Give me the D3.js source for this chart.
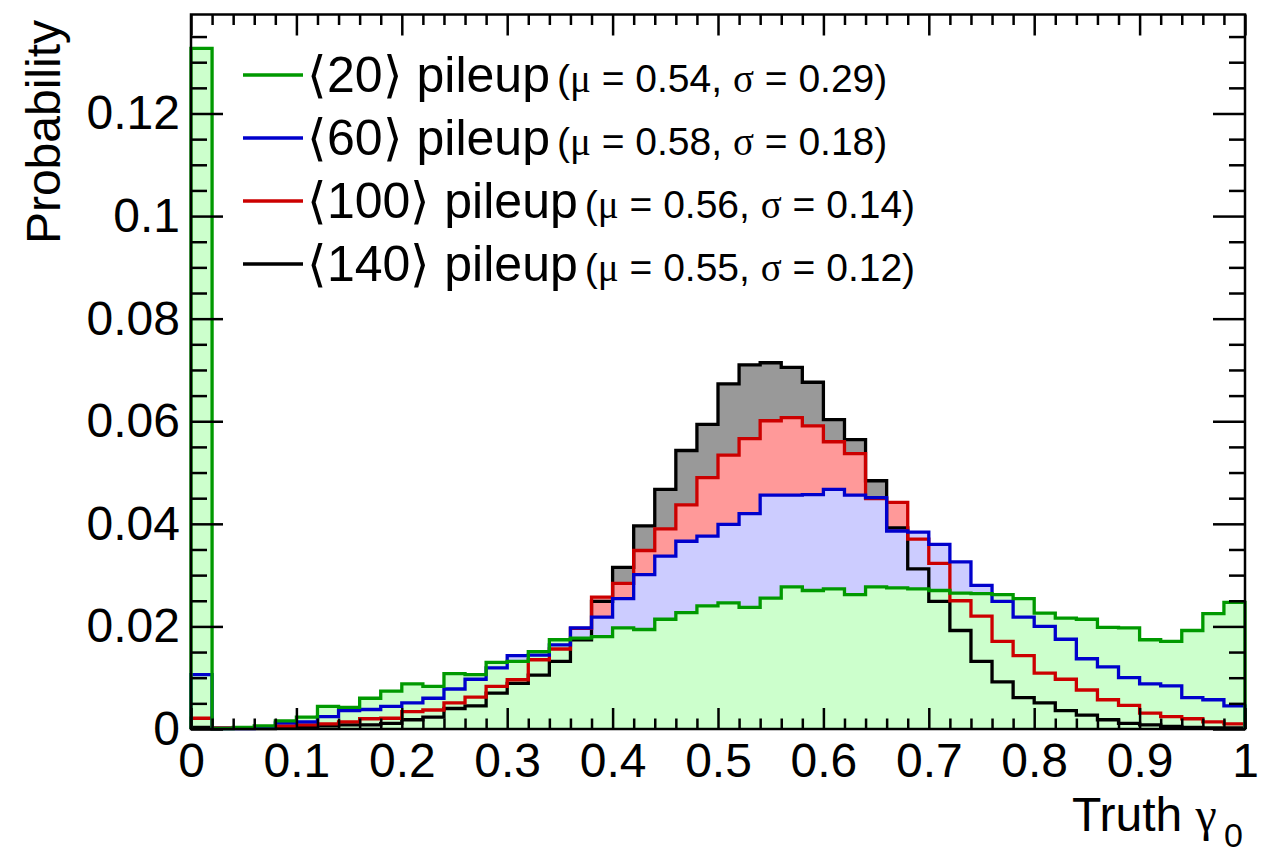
<!DOCTYPE html>
<html>
<head>
<meta charset="utf-8">
<script src="https://cdn.jsdelivr.net/npm/d3@7"></script>
<style>
  body { margin: 0; background: #fff; }
  svg { display: block; }
  text { font-family: "Liberation Sans", Arial, Helvetica, sans-serif; }
</style>
</head>
<body>
<svg id="chart" width="1279" height="855"></svg>
<script>
// Truth gamma_0 distributions, 50 bins of width 0.02 over [0, 1]
const binWidth = 0.02;

const pileup20 = [
  0.1327, 0.0001, 0.0003, 0.0006, 0.0016, 0.0023, 0.0044, 0.0042, 0.0060, 0.0074,
  0.0088, 0.0083, 0.0108, 0.0106, 0.0130, 0.0132, 0.0151, 0.0174, 0.0177, 0.0180,
  0.0197, 0.0194, 0.0214, 0.0227, 0.0240, 0.0246, 0.0237, 0.0255, 0.0277, 0.0270,
  0.0273, 0.0262, 0.0277, 0.0275, 0.0273, 0.0270, 0.0265, 0.0264, 0.0262, 0.0254,
  0.0226, 0.0216, 0.0214, 0.0198, 0.0197, 0.0174, 0.0171, 0.0192, 0.0225, 0.0247
];

const pileup60 = [
  0.0106, 0.0001, 0.0001, 0.0002, 0.0012, 0.0014, 0.0024, 0.0036, 0.0038, 0.0044,
  0.0051, 0.0060, 0.0078, 0.0097, 0.0119, 0.0143, 0.0144, 0.0164, 0.0197, 0.0218,
  0.0254, 0.0301, 0.0337, 0.0366, 0.0376, 0.0399, 0.0420, 0.0456, 0.0456, 0.0457,
  0.0467, 0.0456, 0.0451, 0.0386, 0.0384, 0.0360, 0.0326, 0.0280, 0.0249, 0.0218,
  0.0200, 0.0175, 0.0137, 0.0121, 0.0100, 0.0088, 0.0084, 0.0061, 0.0057, 0.0045
];

const pileup100 = [
  0.0021, 0.0002, 0.0002, 0.0002, 0.0006, 0.0008, 0.0010, 0.0014, 0.0020, 0.0021,
  0.0034, 0.0037, 0.0051, 0.0062, 0.0083, 0.0096, 0.0135, 0.0156, 0.0196, 0.0257,
  0.0284, 0.0348, 0.0390, 0.0437, 0.0490, 0.0534, 0.0566, 0.0601, 0.0607, 0.0591,
  0.0560, 0.0537, 0.0449, 0.0442, 0.0370, 0.0323, 0.0250, 0.0220, 0.0171, 0.0143,
  0.0109, 0.0097, 0.0076, 0.0057, 0.0046, 0.0031, 0.0024, 0.0020, 0.0014, 0.0010
];

const pileup140 = [
  0.0003, 0.0001, 0.0001, 0.0001, 0.0002, 0.0004, 0.0006, 0.0008, 0.0008, 0.0011,
  0.0018, 0.0023, 0.0040, 0.0045, 0.0070, 0.0089, 0.0105, 0.0132, 0.0174, 0.0249,
  0.0315, 0.0396, 0.0467, 0.0543, 0.0594, 0.0673, 0.0710, 0.0714, 0.0705, 0.0676,
  0.0603, 0.0564, 0.0484, 0.0392, 0.0312, 0.0249, 0.0192, 0.0132, 0.0092, 0.0061,
  0.0051, 0.0036, 0.0027, 0.0018, 0.0011, 0.0008, 0.0005, 0.0003, 0.0002, 0.0002
];

// Legend entries
const legendPileup = ["20", "60", "100", "140"];
const legendMu = ["0.54", "0.58", "0.56", "0.55"];
const legendSigma = ["0.29", "0.18", "0.14", "0.12"];

// Axis tick labels
const xTickValues = [0, 0.1, 0.2, 0.3, 0.4, 0.5, 0.6, 0.7, 0.8, 0.9, 1];
const xTickLabels = ["0", "0.1", "0.2", "0.3", "0.4", "0.5", "0.6", "0.7", "0.8", "0.9", "1"];
const yTickValues = [0, 0.02, 0.04, 0.06, 0.08, 0.1, 0.12];
const yTickLabels = ["0", "0.02", "0.04", "0.06", "0.08", "0.1", "0.12"];

// Series styling: fills drawn back to front, outlines afterwards in the same order
const series = [
  { values: pileup140, line: "#000000", fill: "#999999" },
  { values: pileup100, line: "#cc0000", fill: "#ff9999" },
  { values: pileup60,  line: "#0000cc", fill: "#ccccff" },
  { values: pileup20,  line: "#009900", fill: "#ccffcc" }
];
const legendColors = ["#009900", "#0000cc", "#cc0000", "#000000"];

const svg = d3.select("#chart");
const W = 1279, H = 855;
const plot = { left: 191, right: 1245, top: 14.5, bottom: 729 };
const serif = "'Liberation Serif', 'Times New Roman', serif";

svg.append("rect").attr("width", W).attr("height", H).attr("fill", "#fff");

const x = d3.scaleLinear().domain([0, 1]).range([plot.left, plot.right]);
const y = d3.scaleLinear().domain([0, 0.1393]).range([plot.bottom, plot.top]);

// step outline points: one point per bin low edge plus the closing upper edge
function stepPoints(vals) {
  const pts = vals.map((v, i) => [i * binWidth, v]);
  pts.push([vals.length * binWidth, vals[vals.length - 1]]);
  return pts;
}

const area = d3.area()
  .curve(d3.curveStepAfter)
  .x(d => x(d[0]))
  .y0(y(0))
  .y1(d => y(d[1]));

const line = d3.line()
  .curve(d3.curveStepAfter)
  .x(d => x(d[0]))
  .y(d => y(d[1]));

const gPlot = svg.append("g");

// fills first
series.forEach(s => {
  gPlot.append("path")
    .attr("d", area(stepPoints(s.values)))
    .attr("fill", s.fill)
    .attr("stroke", "none");
});

// outlines on top of every fill
series.forEach(s => {
  const full = [[0, 0]].concat(stepPoints(s.values));
  gPlot.append("path")
    .attr("d", line(full) + `L${x(1)},${y(0)}`)
    .attr("fill", "none")
    .attr("stroke", s.line)
    .attr("stroke-width", 3.3)
    .attr("stroke-linejoin", "miter");
});

// ---- axes (ticks point inward) ----
const xMinor = d3.range(1, 50).map(i => i * binWidth).filter(v => Math.abs(v * 10 - Math.round(v * 10)) > 1e-6);
const yMinor = d3.range(1, 28).map(i => i * 0.005).filter(v => Math.abs(v / 0.02 - Math.round(v / 0.02)) > 1e-6);

function styleAxis(g) {
  g.select(".domain").remove();
  g.selectAll(".tick line").attr("stroke", "#000").attr("stroke-width", 2.5);
  g.selectAll(".tick text").attr("font-size", 48).attr("fill", "#000")
    .attr("font-family", "'Liberation Sans', Arial, Helvetica, sans-serif");
}

// bottom
svg.append("g").attr("transform", `translate(0,${plot.bottom})`)
  .call(d3.axisBottom(x).tickValues(xTickValues)
    .tickFormat((d, i) => xTickLabels[i])
    .tickSizeInner(-21).tickSizeOuter(0).tickPadding(14))
  .call(styleAxis);
svg.append("g").attr("transform", `translate(0,${plot.bottom})`)
  .call(d3.axisBottom(x).tickValues(xMinor).tickFormat("")
    .tickSizeInner(-10.5).tickSizeOuter(0))
  .call(styleAxis);

// top
svg.append("g").attr("transform", `translate(0,${plot.top})`)
  .call(d3.axisTop(x).tickValues(xTickValues).tickFormat("")
    .tickSizeInner(-21).tickSizeOuter(0))
  .call(styleAxis);
svg.append("g").attr("transform", `translate(0,${plot.top})`)
  .call(d3.axisTop(x).tickValues(xMinor).tickFormat("")
    .tickSizeInner(-10.5).tickSizeOuter(0))
  .call(styleAxis);

// left
svg.append("g").attr("transform", `translate(${plot.left},0)`)
  .call(d3.axisLeft(y).tickValues(yTickValues)
    .tickFormat((d, i) => yTickLabels[i])
    .tickSizeInner(-32).tickSizeOuter(0).tickPadding(11))
  .call(styleAxis);
svg.append("g").attr("transform", `translate(${plot.left},0)`)
  .call(d3.axisLeft(y).tickValues(yMinor).tickFormat("")
    .tickSizeInner(-16).tickSizeOuter(0))
  .call(styleAxis);

// right
svg.append("g").attr("transform", `translate(${plot.right},0)`)
  .call(d3.axisRight(y).tickValues(yTickValues).tickFormat("")
    .tickSizeInner(-32).tickSizeOuter(0))
  .call(styleAxis);
svg.append("g").attr("transform", `translate(${plot.right},0)`)
  .call(d3.axisRight(y).tickValues(yMinor).tickFormat("")
    .tickSizeInner(-16).tickSizeOuter(0))
  .call(styleAxis);

// frame
svg.append("rect")
  .attr("x", plot.left).attr("y", plot.top)
  .attr("width", plot.right - plot.left).attr("height", plot.bottom - plot.top)
  .attr("fill", "none").attr("stroke", "#000").attr("stroke-width", 2.5);

// axis titles
svg.append("text")
  .attr("transform", "translate(60,20) rotate(-90)")
  .attr("text-anchor", "end")
  .attr("font-size", 48)
  .text("Probability");

const xt = svg.append("text").attr("x", 1072).attr("y", 831).attr("font-size", 48);
xt.append("tspan").text("Truth ");
xt.append("tspan").attr("font-family", serif).text("γ");
svg.append("text").attr("x", 1224).attr("y", 847).attr("font-size", 34).text("0");

// legend
const legend = svg.append("g");
legendPileup.forEach((p, i) => {
  const ly = 75 + i * 63;
  legend.append("line")
    .attr("x1", 243).attr("x2", 303).attr("y1", ly).attr("y2", ly)
    .attr("stroke", legendColors[i]).attr("stroke-width", 3.3);
  const t = legend.append("text").attr("x", 307).attr("y", ly + 17).attr("font-size", 50);
  t.append("tspan").text(`⟨${p}⟩ pileup`);
  const small = t.append("tspan").attr("font-size", 39).attr("dx", 7);
  small.append("tspan").text("(");
  small.append("tspan").attr("font-family", serif).text("μ");
  small.append("tspan").text(` = ${legendMu[i]}, `);
  small.append("tspan").attr("font-family", serif).text("σ");
  small.append("tspan").text(` = ${legendSigma[i]})`);
});
</script>
</body>
</html>
